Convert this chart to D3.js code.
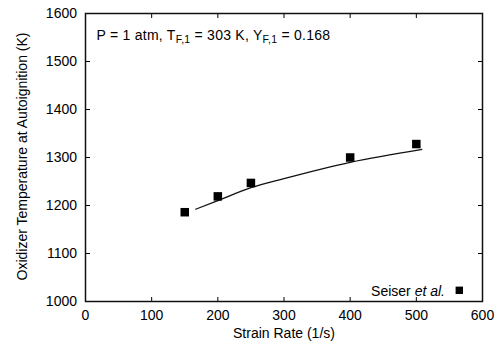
<!DOCTYPE html>
<html><head><meta charset="utf-8">
<script src="https://cdn.jsdelivr.net/npm/d3@7/dist/d3.min.js"></script>
<style>
html,body{margin:0;padding:0;background:#fff;}
svg{display:block;font-family:"Liberation Sans",Arial,Helvetica,sans-serif;}
</style></head>
<body><svg id="c" width="501" height="343"></svg>
<script>
// Experimental data (Seiser et al.)
const expStrain = [150, 200, 250, 400, 500];
const expTemp = [1186, 1219, 1247, 1300, 1328];
// Computed curve
const simStrain = [166, 200, 250, 300, 400, 509];
const simTemp = [1192, 1210, 1237, 1256, 1290, 1317];
const xTicks = [0, 100, 200, 300, 400, 500, 600];
const yTicks = [1000, 1100, 1200, 1300, 1400, 1500, 1600];

const svg = d3.select("#c");
const L = 85.5, R = 482.5, T = 13.5, B = 301.5;
const x = d3.scaleLinear().domain([0, 600]).range([L, R]);
const y = d3.scaleLinear().domain([1000, 1600]).range([B, T]);
const fs = 14;

// ticks (inward, all four sides)
const tk = 4.5;
const g = svg.append("g").attr("stroke", "#000").attr("stroke-width", 1);
xTicks.forEach(v => {
  g.append("line").attr("x1", x(v)).attr("x2", x(v)).attr("y1", B).attr("y2", B - tk);
  g.append("line").attr("x1", x(v)).attr("x2", x(v)).attr("y1", T).attr("y2", T + tk);
});
yTicks.forEach(v => {
  g.append("line").attr("x1", L).attr("x2", L + tk).attr("y1", y(v)).attr("y2", y(v));
  g.append("line").attr("x1", R).attr("x2", R - tk).attr("y1", y(v)).attr("y2", y(v));
});
svg.append("rect").attr("x", L).attr("y", T).attr("width", R - L).attr("height", B - T)
  .attr("fill", "none").attr("stroke", "#111").attr("stroke-width", 1.5);

// tick labels
svg.append("g").selectAll("text").data(xTicks).join("text")
  .attr("x", d => x(d)).attr("y", 320).attr("text-anchor", "middle")
  .attr("font-size", fs).attr("fill", "#000").text(d => d);
svg.append("g").selectAll("text").data(yTicks).join("text")
  .attr("x", 77).attr("y", d => y(d)).attr("dy", "0.35em").attr("text-anchor", "end")
  .attr("font-size", fs).attr("fill", "#000").text(d => d);

// axis titles
svg.append("text").attr("x", x(300)).attr("y", 337.5).attr("text-anchor", "middle")
  .attr("font-size", fs).text("Strain Rate (1/s)");
svg.append("text").attr("transform", "translate(27,156.5) rotate(-90)").attr("text-anchor", "middle")
  .attr("font-size", fs).text("Oxidizer Temperature at Autoignition (K)");

// annotation
const ann = svg.append("text").attr("x", 96.5).attr("y", 40).attr("font-size", fs)
  .attr("letter-spacing", 0.25);
ann.append("tspan").text("P = 1 atm, T");
ann.append("tspan").attr("font-size", 10.5).attr("dy", 3).text("F,1");
ann.append("tspan").attr("dy", -3).text(" = 303 K, Y");
ann.append("tspan").attr("font-size", 10.5).attr("dy", 3).text("F,1");
ann.append("tspan").attr("dy", -3).text(" = 0.168");

// line
const line = d3.line().x(d => x(d[0])).y(d => y(d[1])).curve(d3.curveMonotoneX);
svg.append("path").datum(simStrain.map((s, i) => [s, simTemp[i]]))
  .attr("d", line).attr("fill", "none").attr("stroke", "#111").attr("stroke-width", 1.3);

// markers
const ms = 8.5;
svg.append("g").selectAll("rect").data(expStrain.map((s, i) => [s, expTemp[i]])).join("rect")
  .attr("x", d => x(d[0]) - ms / 2).attr("y", d => y(d[1]) - ms / 2)
  .attr("width", ms).attr("height", ms).attr("fill", "#000");

// legend
const lg = svg.append("text").attr("x", 445).attr("y", 295.5).attr("text-anchor", "end").attr("font-size", fs);
lg.append("tspan").text("Seiser ");
lg.append("tspan").attr("font-style", "italic").text("et al.");
svg.append("rect").attr("x", 459.3 - 3.7).attr("y", 290.3 - 3.7).attr("width", 7.4).attr("height", 7.4).attr("fill", "#000");
</script></body></html>
